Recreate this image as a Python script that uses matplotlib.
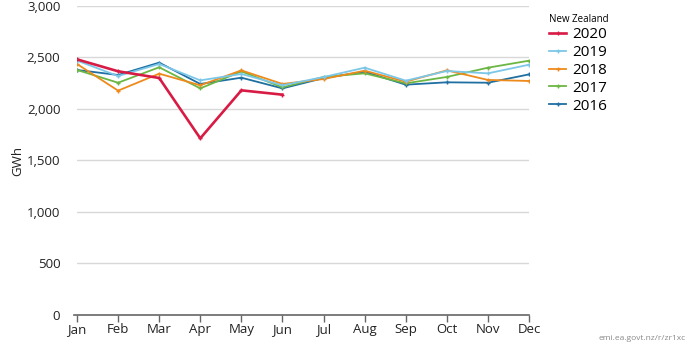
import numpy as np
from matplotlib import pyplot as plt

MONTHS = ["Jan", "Feb", "Mar", "Apr", "May", "Jun", "Jul", "Aug", "Sep", "Oct", "Nov", "Dec"]

# monthly generation, GWh
y2020 = [2482, 2366, 2301, 1715, 2181, 2139]
y2019 = [2470, 2320, 2437, 2278, 2340, 2230, 2310, 2401, 2275, 2369, 2346, 2430]
y2018 = [2437, 2178, 2343, 2230, 2375, 2243, 2291, 2372, 2265, 2375, 2282, 2272]
y2017 = [2379, 2255, 2405, 2200, 2365, 2210, 2311, 2346, 2249, 2311, 2401, 2469]
y2016 = [2379, 2330, 2450, 2243, 2304, 2200, 2300, 2362, 2236, 2259, 2255, 2336]

YEARS = ["2020", "2019", "2018", "2017", "2016"]
SERIES = [y2020, y2019, y2018, y2017, y2016]
COLORS = ["#d81b45", "#7cc7e8", "#ee8a1c", "#6cb644", "#1f6fa3"]
WIDTHS = [1.9, 1.3, 1.3, 1.3, 1.3]

plt.rcParams['font.family'] = ['Open Sans', 'DejaVu Sans']

fig = plt.figure(figsize=(6.9, 3.46), dpi=100)
ax = fig.add_axes([0.1116, 0.0896, 0.6551, 0.8931])

x = np.arange(len(MONTHS))
handles = []
# draw older years first so 2020 sits on top
for yr, vals, col, lw in reversed(list(zip(YEARS, SERIES, COLORS, WIDTHS))):
    h, = ax.plot(x[:len(vals)], vals, color=col, lw=lw, marker='+', ms=3, mew=1.0, label=yr)
    handles.append(h)
handles = handles[::-1]

ax.set_xlim(0, 11)
ax.set_ylim(0, 3000)
ax.set_yticks(np.arange(0, 3001, 500))
ax.set_yticklabels([f"{v:,}" for v in range(0, 3001, 500)])
ax.set_xticks(x)
ax.set_xticklabels(MONTHS)
ax.grid(axis='y', color='#d8d8d8', lw=1)
ax.set_axisbelow(True)

for s in ['top', 'right', 'left']:
    ax.spines[s].set_visible(False)
ax.spines['bottom'].set_color('#666666')
ax.spines['bottom'].set_linewidth(1.2)
ax.spines['bottom'].set_bounds(-0.07, 11)
ax.tick_params(axis='y', length=0, pad=12, labelsize=9.5, labelcolor='#222222')
ax.tick_params(axis='x', length=5, width=1, color='#666666', pad=1, labelsize=9.5, labelcolor='#222222')
ax.set_ylabel("GWh", fontsize=9.5, color='#222222', labelpad=2)

leg = fig.legend(handles, YEARS, loc='upper left', bbox_to_anchor=(0.776, 1.0),
                 title="New Zealand", frameon=False, fontsize=11, title_fontsize=7,
                 handlelength=1.1, handletextpad=0.4, labelspacing=0.18, alignment='left')

fig.text(0.994, 0.012, "emi.ea.govt.nz/r/zr1xc", ha='right', va='bottom', fontsize=6, color='#888888')

fig.savefig("out.png", dpi=100)
